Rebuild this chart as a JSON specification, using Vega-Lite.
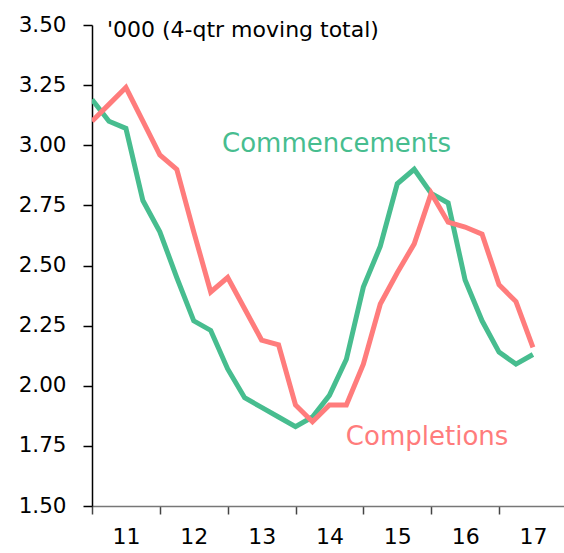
{
  "$schema": "https://vega.github.io/schema/vega-lite/v6.json",
  "width": 472,
  "height": 481,
  "autosize": "none",
  "padding": {"left": 92, "top": 25, "right": 0, "bottom": 47},
  "background": "white",
  "config": {
    "view": {"stroke": null},
    "font": "DejaVu Sans"
  },
  "datasets": {
    "lines": [
      {"t": 2011.00, "series": "Commencements", "v": 3.19},
      {"t": 2011.25, "series": "Commencements", "v": 3.10},
      {"t": 2011.50, "series": "Commencements", "v": 3.07},
      {"t": 2011.75, "series": "Commencements", "v": 2.77},
      {"t": 2012.00, "series": "Commencements", "v": 2.64},
      {"t": 2012.25, "series": "Commencements", "v": 2.45},
      {"t": 2012.50, "series": "Commencements", "v": 2.27},
      {"t": 2012.75, "series": "Commencements", "v": 2.23},
      {"t": 2013.00, "series": "Commencements", "v": 2.07},
      {"t": 2013.25, "series": "Commencements", "v": 1.95},
      {"t": 2013.50, "series": "Commencements", "v": 1.91},
      {"t": 2013.75, "series": "Commencements", "v": 1.87},
      {"t": 2014.00, "series": "Commencements", "v": 1.83},
      {"t": 2014.25, "series": "Commencements", "v": 1.87},
      {"t": 2014.50, "series": "Commencements", "v": 1.96},
      {"t": 2014.75, "series": "Commencements", "v": 2.11},
      {"t": 2015.00, "series": "Commencements", "v": 2.41},
      {"t": 2015.25, "series": "Commencements", "v": 2.58},
      {"t": 2015.50, "series": "Commencements", "v": 2.84},
      {"t": 2015.75, "series": "Commencements", "v": 2.90},
      {"t": 2016.00, "series": "Commencements", "v": 2.80},
      {"t": 2016.25, "series": "Commencements", "v": 2.76},
      {"t": 2016.50, "series": "Commencements", "v": 2.44},
      {"t": 2016.75, "series": "Commencements", "v": 2.27},
      {"t": 2017.00, "series": "Commencements", "v": 2.14},
      {"t": 2017.25, "series": "Commencements", "v": 2.09},
      {"t": 2017.50, "series": "Commencements", "v": 2.13},
      {"t": 2011.00, "series": "Completions", "v": 3.10},
      {"t": 2011.25, "series": "Completions", "v": 3.17},
      {"t": 2011.50, "series": "Completions", "v": 3.24},
      {"t": 2011.75, "series": "Completions", "v": 3.10},
      {"t": 2012.00, "series": "Completions", "v": 2.96},
      {"t": 2012.25, "series": "Completions", "v": 2.90},
      {"t": 2012.50, "series": "Completions", "v": 2.64},
      {"t": 2012.75, "series": "Completions", "v": 2.39},
      {"t": 2013.00, "series": "Completions", "v": 2.45},
      {"t": 2013.25, "series": "Completions", "v": 2.32},
      {"t": 2013.50, "series": "Completions", "v": 2.19},
      {"t": 2013.75, "series": "Completions", "v": 2.17},
      {"t": 2014.00, "series": "Completions", "v": 1.92},
      {"t": 2014.25, "series": "Completions", "v": 1.85},
      {"t": 2014.50, "series": "Completions", "v": 1.92},
      {"t": 2014.75, "series": "Completions", "v": 1.92},
      {"t": 2015.00, "series": "Completions", "v": 2.09},
      {"t": 2015.25, "series": "Completions", "v": 2.34},
      {"t": 2015.50, "series": "Completions", "v": 2.47},
      {"t": 2015.75, "series": "Completions", "v": 2.59},
      {"t": 2016.00, "series": "Completions", "v": 2.80},
      {"t": 2016.25, "series": "Completions", "v": 2.68},
      {"t": 2016.50, "series": "Completions", "v": 2.66},
      {"t": 2016.75, "series": "Completions", "v": 2.63},
      {"t": 2017.00, "series": "Completions", "v": 2.42},
      {"t": 2017.25, "series": "Completions", "v": 2.35},
      {"t": 2017.50, "series": "Completions", "v": 2.16}
    ],
    "note": [
      {"t": 2011.22, "v": 3.48, "text": "'000 (4-qtr moving total)"}
    ],
    "labels": [
      {"t": 2014.605, "v": 3.005, "text": "Commencements", "series": "Commencements"},
      {"t": 2015.94, "v": 1.787, "text": "Completions", "series": "Completions"}
    ]
  },
  "encoding": {
    "x": {
      "field": "t", "type": "quantitative",
      "scale": {"domain": [2011, 2017.958], "nice": false, "zero": false},
      "axis": {
        "values": [2011, 2012, 2013, 2014, 2015, 2016, 2017],
        "labelExpr": "format(datum.value - 2000, 'd')",
        "labelOffset": 34,
        "labelFlush": false,
        "labelFontSize": 22,
        "labelColor": "#000000",
        "labelPadding": 12,
        "tickSize": 8,
        "tickColor": "#444444",
        "domainColor": "#777777",
        "domainWidth": 1.5,
        "tickWidth": 1.5,
        "grid": false,
        "title": null
      }
    },
    "y": {
      "field": "v", "type": "quantitative",
      "scale": {"domain": [1.5, 3.5], "nice": false, "zero": false},
      "axis": {
        "values": [1.5, 1.75, 2, 2.25, 2.5, 2.75, 3, 3.25, 3.5],
        "format": ".2f",
        "labelFlush": false,
        "labelFontSize": 21.5,
        "labelColor": "#000000",
        "labelPadding": 17,
        "tickSize": 9,
        "tickColor": "#000000",
        "domainColor": "#000000",
        "domainWidth": 1.5,
        "tickWidth": 1.5,
        "grid": false,
        "title": null
      }
    }
  },
  "layer": [
    {
      "data": {"name": "lines"},
      "mark": {"type": "line", "strokeWidth": 5, "clip": true},
      "encoding": {
        "color": {
          "field": "series", "type": "nominal",
          "scale": {"domain": ["Commencements", "Completions"], "range": ["#47BD8F", "#FF7C7C"]},
          "legend": null
        }
      }
    },
    {
      "data": {"name": "labels"},
      "mark": {"type": "text", "fontSize": 26, "baseline": "middle", "align": "center"},
      "encoding": {
        "text": {"field": "text"},
        "color": {
          "field": "series", "type": "nominal",
          "scale": {"domain": ["Commencements", "Completions"], "range": ["#47BD8F", "#FF7C7C"]},
          "legend": null
        }
      }
    },
    {
      "data": {"name": "note"},
      "mark": {"type": "text", "fontSize": 22, "baseline": "middle", "align": "left", "color": "#000000"},
      "encoding": {
        "text": {"field": "text"}
      }
    }
  ]
}
